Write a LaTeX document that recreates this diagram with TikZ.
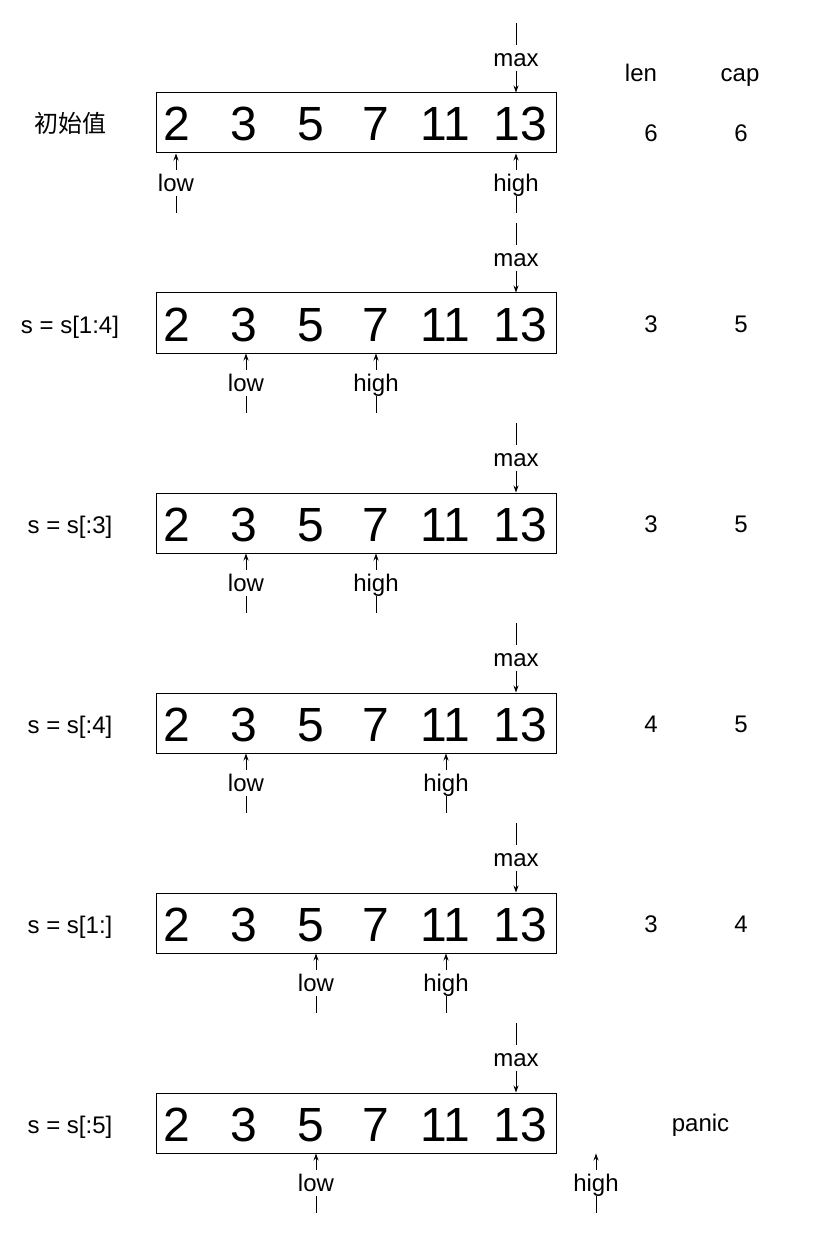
\documentclass[tikz,border=0pt]{standalone}
\usepackage{fontspec}
\setmainfont{Liberation Sans}
\newfontfamily\cjk{Noto Sans CJK SC}
\usetikzlibrary{arrows.meta}
\tikzset{
  lab/.style={font=\fontsize{24}{28}\selectfont, fill=white, inner sep=1.5pt, text height=20pt, text depth=3pt},
  txt/.style={font=\fontsize{24}{28}\selectfont, inner sep=0pt, anchor=base},
  num/.style={font=\fontsize{48}{56}\selectfont, inner sep=0pt, anchor=base},
  arrbox/.style={draw, line width=1pt, minimum width=400pt, minimum height=60pt, inner sep=0pt},
  ptr/.style={line width=1pt, -{Stealth[length=7pt,width=5pt]}},
}
\begin{document}
\begin{tikzpicture}[x=1pt,y=-1pt]
\useasboundingbox (0,0) rectangle (814,1238);
\foreach \i/\lbl/\lx/\hx in {0/{\cjk 初始值}/176/516, 1/{s = s[1:4]}/246/376, 2/{s = s[:3]}/246/376, 3/{s = s[:4]}/246/446, 4/{s = s[1:]}/316/446, 5/{s = s[:5]}/316/596}{
  \pgfmathsetmacro\yo{200*\i}
  \node[arrbox] (box\i) at (356.5,{123+\yo}) {};
  \foreach \d/\dx [count=\k] in {2/177,3/244,5/311,7/376,11/445,13/520.5}
    \node[num] (d\i-\k) at (\dx,{141+\yo}) {\d};
  \coordinate (mt\i) at (516,{23+\yo});
  \draw[ptr] (mt\i) -- node[lab] (mx\i) {max} (mt\i |- box\i.north);
  \coordinate (lt\i) at (\lx,{213+\yo});
  \draw[ptr] (lt\i) -- node[lab] (lo\i) {low} (lt\i |- box\i.south);
  \coordinate (ht\i) at (\hx,{213+\yo});
  \draw[ptr] (ht\i) -- node[lab] (hi\i) {high} (ht\i |- box\i.south);
  \node[txt] (lb\i) at (70,{133+\yo}) {\lbl};
}
\node[txt] (lenh) at (641,82) {len};
\node[txt] (caph) at (740,82) {cap};
\node[txt] (len0) at (651,142) {6};
\node[txt] (cap0) at (741,142) {6};
\node[txt] (len1) at (651,332) {3};
\node[txt] (cap1) at (741,332) {5};
\node[txt] (len2) at (651,532) {3};
\node[txt] (cap2) at (741,532) {5};
\node[txt] (len3) at (651,732) {4};
\node[txt] (cap3) at (741,732) {5};
\node[txt] (len4) at (651,932) {3};
\node[txt] (cap4) at (741,932) {4};
\node[txt] (panic) at (700.5,1131.5) {panic};
\end{tikzpicture}
\end{document}
